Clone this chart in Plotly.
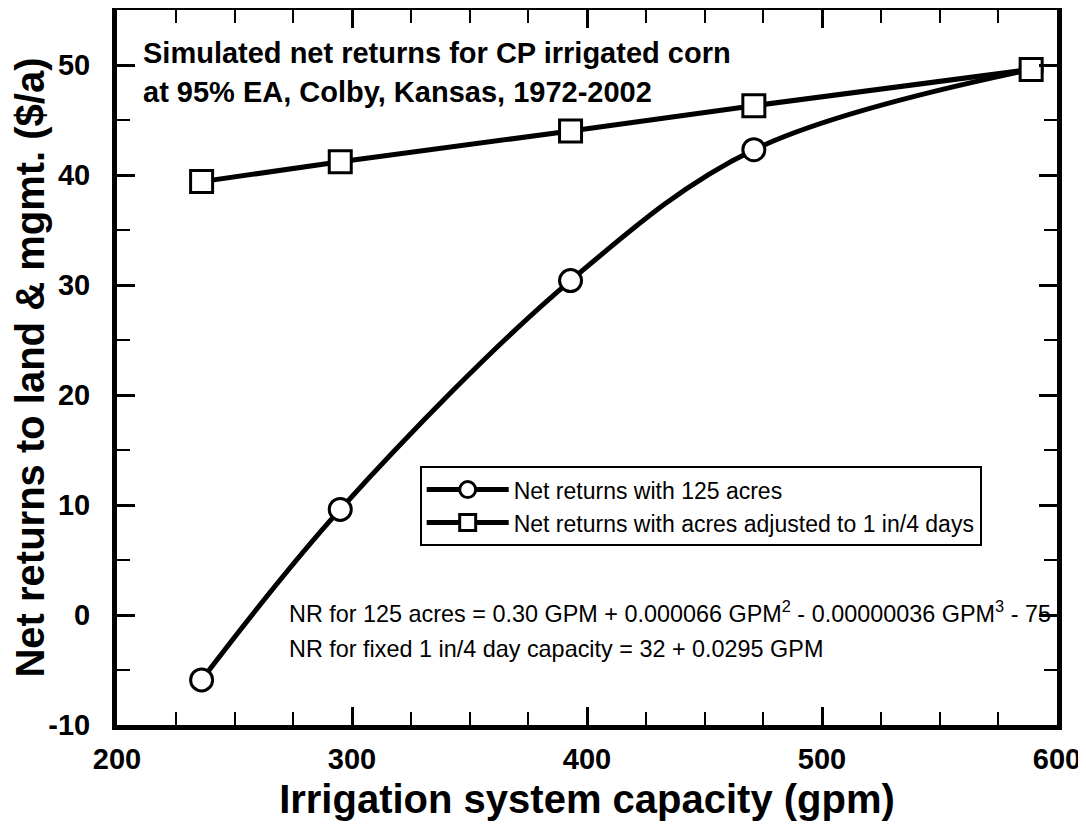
import plotly.graph_objects as go

# Data
capacity_gpm = [236, 295, 393, 471, 589]
nr_125_acres = [-5.9, 9.6, 30.4, 42.3, 49.6]
nr_adjusted = [39.4, 41.2, 44.0, 46.3, 49.6]

series_names = ["Net returns with 125 acres",
                "Net returns with acres adjusted to 1 in/4 days"]

x_ticks = [200, 300, 400, 500, 600]
x_ticktext = ["200", "300", "400", "500", "600"]
y_ticks = [-10, 0, 10, 20, 30, 40, 50]
y_ticktext = ["-10", "0", "10", "20", "30", "40", "50"]

FONT = "Arial, Liberation Sans, sans-serif"

fig = go.Figure()
fig.add_trace(go.Scatter(
    x=capacity_gpm, y=nr_125_acres, name=series_names[0],
    mode="lines+markers",
    line=dict(color="black", width=5, shape="spline", smoothing=1.0),
    marker=dict(symbol="circle", size=22, color="white",
                line=dict(color="black", width=3)),
))
fig.add_trace(go.Scatter(
    x=capacity_gpm, y=nr_adjusted, name=series_names[1],
    mode="lines+markers",
    line=dict(color="black", width=5),
    marker=dict(symbol="square", size=22, color="white",
                line=dict(color="black", width=3)),
))

axis_common = dict(
    showgrid=False, zeroline=False,
    showline=True, linecolor="black", linewidth=5, mirror="ticks",
    ticks="inside", ticklen=18, tickwidth=3, tickcolor="black",
    tickfont=dict(family=FONT, size=29, color="black", weight="bold"),
)

fig.update_xaxes(
    range=[200, 600], tickvals=x_ticks, ticktext=x_ticktext,
    ticklabelstandoff=4,
    minor=dict(ticks="inside", dtick=25, ticklen=13, tickwidth=2, tickcolor="black"),
    title=dict(text="Irrigation system capacity (gpm)",
               font=dict(family=FONT, size=40, color="black", weight="bold"),
               standoff=13),
    **axis_common,
)
fig.update_yaxes(
    range=[-10, 55], tickvals=y_ticks, ticktext=y_ticktext,
    ticklabelstandoff=16,
    minor=dict(ticks="inside", dtick=5, ticklen=13, tickwidth=2, tickcolor="black"),
    title=dict(text="Net returns to land & mgmt. ($/a)",
               font=dict(family=FONT, size=40, color="black", weight="bold"),
               standoff=4),
    **axis_common,
)

fig.add_annotation(
    xref="paper", yref="paper", x=0.026, y=0.940, xanchor="left", yanchor="middle",
    align="left", showarrow=False,
    text="Simulated net returns for CP irrigated corn",
    font=dict(family=FONT, size=29, color="black", weight="bold"),
)
fig.add_annotation(
    xref="paper", yref="paper", x=0.026, y=0.885, xanchor="left", yanchor="middle",
    align="left", showarrow=False,
    text="at 95% EA, Colby, Kansas, 1972-2002",
    font=dict(family=FONT, size=29, color="black", weight="bold"),
)
fig.add_annotation(
    xref="paper", yref="paper", x=0.181, y=0.158, xanchor="left", yanchor="middle",
    showarrow=False,
    text="NR for 125 acres = 0.30 GPM + 0.000066 GPM<sup>2</sup> - 0.00000036 GPM<sup>3</sup> - 75",
    font=dict(family=FONT, size=23.4, color="black"),
)
fig.add_annotation(
    xref="paper", yref="paper", x=0.181, y=0.106, xanchor="left", yanchor="middle",
    showarrow=False,
    text="NR for fixed 1 in/4 day capacity = 32 + 0.0295 GPM",
    font=dict(family=FONT, size=23.4, color="black"),
)

# The page body has an 8px default margin, so the plot area is shifted by it.
fig.update_layout(
    width=1086, height=829,
    margin=dict(l=109, r=37, t=2, b=112, autoexpand=False),
    paper_bgcolor="white", plot_bgcolor="white",
    showlegend=True,
    legend=dict(
        x=0.322, y=0.362, xanchor="left", yanchor="top",
        bgcolor="white", bordercolor="black", borderwidth=2,
        font=dict(family=FONT, size=23, color="black"),
        tracegroupgap=0, itemsizing="trace", itemwidth=82,
    ),
)

fig.write_html("out.html")
